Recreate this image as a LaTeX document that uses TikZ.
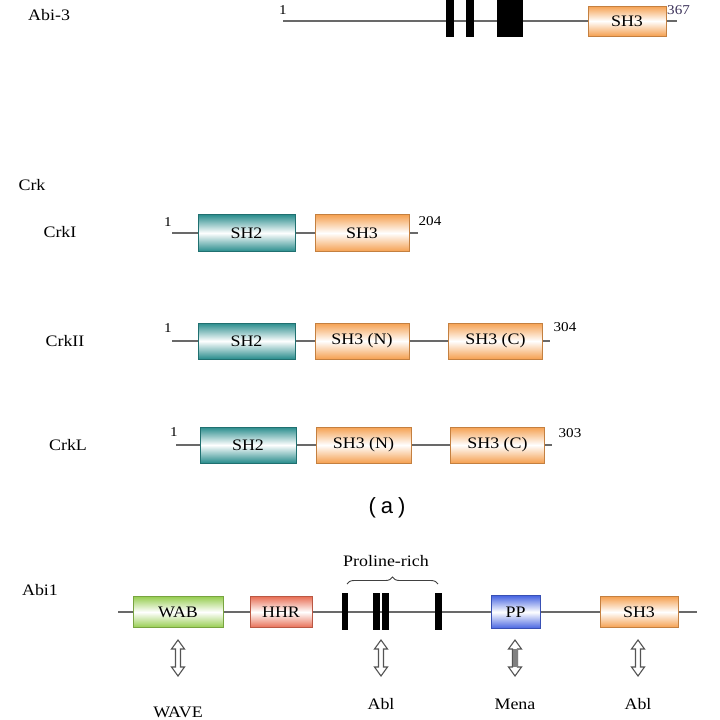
\documentclass[tikz,border=0pt]{standalone}
\usepackage{fontspec}
\setmainfont{Liberation Serif}[FakeStretch=1.12]
\newfontfamily\sansf{Liberation Sans}
\usetikzlibrary{backgrounds,decorations.pathreplacing,calc}
\definecolor{tealc}{RGB}{40,140,140}
\definecolor{orangec}{RGB}{245,160,80}
\definecolor{greenc}{RGB}{150,205,80}
\definecolor{redc}{RGB}{232,110,85}
\definecolor{bluec}{RGB}{70,100,225}
\definecolor{linec}{RGB}{105,105,105}
\definecolor{numc}{RGB}{60,50,90}
\newcommand\dtext{\fontsize{16}{19}\selectfont}
\newcommand\ntext{\fontsize{13.5}{15}\selectfont}
\tikzset{
  dom/.style={rectangle, inner sep=0pt, draw=#1!80!black, line width=0.7pt,
    top color=#1, bottom color=#1, middle color=white, font=\dtext},
  bar/.style={rectangle, inner sep=0pt, fill=black, draw=none},
  backbone/.style={draw=linec, line width=2.2pt},
  lbl/.style={font=\dtext, inner sep=0pt},
  num/.style={font=\ntext, inner sep=0pt},
  arrline/.style={draw=linec!80!black, line width=1.1pt, line join=miter, fill=white},
  dblarr/.pic={\draw[arrline] (0,-18) -- (6.5,-9) -- (2.5,-9) -- (2.5,9) -- (6.5,9) -- (0,18)
      -- (-6.5,9) -- (-2.5,9) -- (-2.5,-9) -- (-6.5,-9) -- cycle;},
  dblarrf/.pic={\draw[arrline] (0,-18) -- (6.5,-9) -- (2.5,-9) -- (2.5,9) -- (6.5,9) -- (0,18)
      -- (-6.5,9) -- (-2.5,9) -- (-2.5,-9) -- (-6.5,-9) -- cycle;
      \fill[linec!85] (-2.5,-9) rectangle (2.5,9);}
}
\begin{document}
\begin{tikzpicture}[x=1pt,y=-1pt]
\useasboundingbox (0,0) rectangle (720,720);
\begin{scope}[on background layer]
\fill[white] (0,0) rectangle (720,720);
\end{scope}

% ---------------- Abi-3 ----------------
\node[lbl, anchor=west] (abi3) at (28,15) {Abi-3};
\coordinate (a3s) at (283,21);
\coordinate (a3e) at (677,21);
\node[num, anchor=south] (a3one) at (283,15) {1};
\node[bar, minimum width=8pt, minimum height=39pt] (a3b1) at (450,17.5) {};
\node[bar, minimum width=8pt, minimum height=39pt] (a3b2) at (470,17.5) {};
\node[bar, minimum width=26pt, minimum height=39pt] (a3b3) at (510,17.5) {};
\node[dom=orangec, minimum width=78pt, minimum height=30pt] (a3sh3) at (627,21) {SH3};
\node[num, anchor=south west, text=numc] (a3n) at (667,15) {367};
\begin{scope}[on background layer]
\draw[backbone] (a3s) -- (a3sh3.west);
\draw[backbone] (a3sh3.east) -- (a3e);
\end{scope}

% ---------------- Crk ----------------
\node[lbl] (crk) at (32,185) {Crk};

% CrkI
\node[lbl] (crk1) at (60,232) {CrkI};
\coordinate (c1s) at (172,233);
\coordinate (c1e) at (418,233);
\node[dom=tealc, minimum width=97pt, minimum height=37pt] (c1sh2) at (246.5,233) {SH2};
\node[dom=orangec, minimum width=94pt, minimum height=37pt] (c1sh3) at (362,233) {SH3};
\begin{scope}[on background layer]
\draw[backbone] (c1s) -- (c1sh2.west);
\draw[backbone] (c1sh2.east) -- (c1sh3.west);
\draw[backbone] (c1sh3.east) -- (c1e);
\end{scope}
\node[num] (c1one) at (168,222) {1};
\node[num] (c1n) at (430,221) {204};

% CrkII
\node[lbl] (crk2) at (65,341) {CrkII};
\coordinate (c2s) at (172,341);
\coordinate (c2e) at (550,341);
\node[dom=tealc, minimum width=97pt, minimum height=36pt] (c2sh2) at (246.5,341) {SH2};
\node[dom=orangec, minimum width=94pt, minimum height=36pt] (c2sh3n) at (362,341) {SH3 (N)};
\node[dom=orangec, minimum width=94pt, minimum height=36pt] (c2sh3c) at (495.5,341) {SH3 (C)};
\begin{scope}[on background layer]
\draw[backbone] (c2s) -- (c2sh2.west);
\draw[backbone] (c2sh2.east) -- (c2sh3n.west);
\draw[backbone] (c2sh3n.east) -- (c2sh3c.west);
\draw[backbone] (c2sh3c.east) -- (c2e);
\end{scope}
\node[num] (c2one) at (168,328) {1};
\node[num] (c2n) at (565,327) {304};

% CrkL
\node[lbl] (crkl) at (68,445) {CrkL};
\coordinate (c3s) at (176,445);
\coordinate (c3e) at (552,445);
\node[dom=tealc, minimum width=96pt, minimum height=36pt] (c3sh2) at (248,445) {SH2};
\node[dom=orangec, minimum width=95pt, minimum height=36pt] (c3sh3n) at (363.5,445) {SH3 (N)};
\node[dom=orangec, minimum width=94pt, minimum height=36pt] (c3sh3c) at (497.5,445) {SH3 (C)};
\begin{scope}[on background layer]
\draw[backbone] (c3s) -- (c3sh2.west);
\draw[backbone] (c3sh2.east) -- (c3sh3n.west);
\draw[backbone] (c3sh3n.east) -- (c3sh3c.west);
\draw[backbone] (c3sh3c.east) -- (c3e);
\end{scope}
\node[num] (c3one) at (174,432) {1};
\node[num] (c3n) at (570,433) {303};

\node[font=\sansf\fontsize{22}{26}\selectfont, inner sep=0pt] (capa) at (387,508) {(\hspace{5pt}a\hspace{5pt})};

% ---------------- Abi1 ----------------
\node[lbl] (abi1) at (40,590) {Abi1};
\coordinate (b1s) at (118,612);
\coordinate (b1e) at (697,612);
\node[dom=greenc, minimum width=90pt, minimum height=31pt] (wab) at (178,612) {WAB};
\node[dom=redc, minimum width=62pt, minimum height=31pt] (hhr) at (281,612) {HHR};
\node[bar, minimum width=6pt, minimum height=37pt] (pb1) at (345,611.5) {};
\node[bar, minimum width=7pt, minimum height=37pt] (pb2) at (376.5,611.5) {};
\node[bar, minimum width=7pt, minimum height=37pt] (pb3) at (385.5,611.5) {};
\node[bar, minimum width=7pt, minimum height=37pt] (pb4) at (438.5,611.5) {};
\node[dom=bluec, minimum width=49pt, minimum height=33pt] (pp) at (515.5,612) {PP};
\node[dom=orangec, minimum width=78pt, minimum height=31pt] (sh3) at (639,612) {SH3};
\begin{scope}[on background layer]
\draw[backbone] (b1s) -- (wab.west);
\draw[backbone] (wab.east) -- (hhr.west);
\draw[backbone] (hhr.east) -- (pp.west);
\draw[backbone] (pp.east) -- (sh3.west);
\draw[backbone] (sh3.east) -- (b1e);
\end{scope}
\coordinate (brl) at (347,584);
\coordinate (brr) at (438,584);
\draw[decorate, decoration={brace, amplitude=7pt}, line width=0.9pt, draw=black!75] (brl) -- (brr);
\node[lbl] (prich) at (386,561) {Proline-rich};

% interaction arrows
\coordinate (ar1) at (178,658);
\coordinate (ar2) at (381,658);
\coordinate (ar3) at (515,658);
\coordinate (ar4) at (638,658);
\pic at (ar1) {dblarr};
\pic at (ar2) {dblarr};
\pic at (ar3) {dblarrf};
\pic at (ar4) {dblarr};
\node[lbl] (wave) at (178,712) {WAVE};
\node[lbl] (abl1) at (381,704) {Abl};
\node[lbl] (mena) at (515,704) {Mena};
\node[lbl] (abl2) at (638,704) {Abl};
\end{tikzpicture}
\end{document}
